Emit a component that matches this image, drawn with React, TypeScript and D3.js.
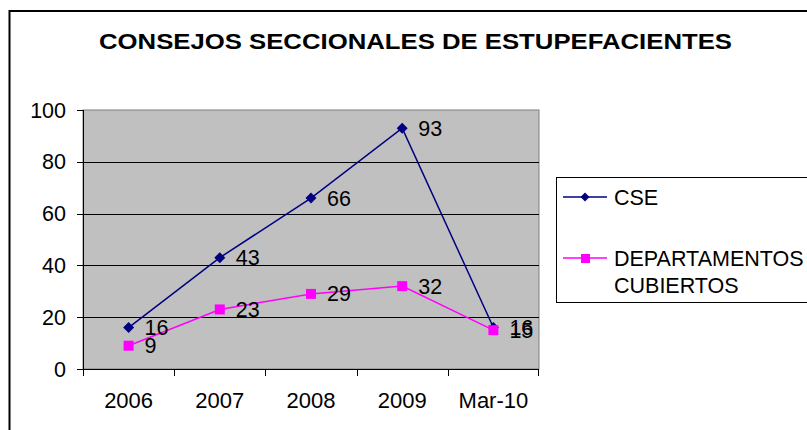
import React from "react";
import * as d3 from "d3";

const categories = ["2006", "2007", "2008", "2009", "Mar-10"];
const cseValues = [16, 43, 66, 93, 16];
const depValues = [9, 23, 29, 32, 15];
const yTicks = [0, 20, 40, 60, 80, 100];
const title = "CONSEJOS SECCIONALES DE ESTUPEFACIENTES";
const seriesNames = ["CSE", "DEPARTAMENTOS", "CUBIERTOS"];

const W = 807;
const H = 430;
const plot = { left: 83, right: 539, top: 110, bottom: 369 };
const font = "'Liberation Sans', Arial, sans-serif";

function T({
  x,
  y,
  anchor = "start",
  size = 21.5,
  sx = 1,
  dy = "0.35em",
  children,
}: {
  x: number;
  y: number;
  anchor?: string;
  size?: number;
  sx?: number;
  dy?: string;
  children: React.ReactNode;
}) {
  return (
    <text
      transform={`translate(${x},${y}) scale(${sx},1)`}
      dy={dy}
      textAnchor={anchor as any}
      fontFamily={font}
      fontSize={size}
      fill="#000"
    >
      {children}
    </text>
  );
}

export default function App() {
  const x = d3
    .scaleBand<string>()
    .domain(categories)
    .range([plot.left, plot.right])
    .padding(0);
  const y = d3.scaleLinear().domain([0, 100]).range([plot.bottom, plot.top]);
  const cx = (c: string) => (x(c) as number) + x.bandwidth() / 2;

  const line = d3
    .line<number>()
    .x((_, i) => cx(categories[i]))
    .y((d) => y(d));

  const diamond = (px: number, py: number, r: number) =>
    `M${px},${py - r}L${px + r},${py}L${px},${py + r}L${px - r},${py}Z`;

  return (
    <svg width={W} height={H} style={{ position: "absolute", left: 0, top: 0 }}>
      <rect x={0} y={0} width={W} height={H} fill="#fff" />
      {/* outer border */}
      <rect x={9.5} y={11} width={W + 10} height={H + 10} fill="none" stroke="#000" strokeWidth={2} />
      {/* title */}
      <text
        x={99}
        y={48.5}
        textLength={633}
        lengthAdjust="spacingAndGlyphs"
        fontFamily={font}
        fontWeight="bold"
        fontSize={22.5}
        fill="#000"
      >
        {title}
      </text>
      {/* plot area */}
      <rect
        x={plot.left}
        y={plot.top}
        width={plot.right - plot.left}
        height={plot.bottom - plot.top}
        fill="#C0C0C0"
        stroke="#808080"
        strokeWidth={1}
      />
      {/* gridlines */}
      {yTicks
        .filter((t) => t > 0 && t < 100)
        .map((t) => (
          <line
            key={"g" + t}
            x1={plot.left}
            x2={plot.right}
            y1={Math.round(y(t)) + 0.5}
            y2={Math.round(y(t)) + 0.5}
            stroke="#000"
            strokeWidth={1}
          />
        ))}
      {/* y axis */}
      <line x1={plot.left + 0.5} x2={plot.left + 0.5} y1={plot.top} y2={plot.bottom} stroke="#000" />
      {yTicks.map((t) => (
        <g key={"y" + t}>
          <line
            x1={plot.left - 6}
            x2={plot.left}
            y1={Math.round(y(t)) + 0.5}
            y2={Math.round(y(t)) + 0.5}
            stroke="#000"
          />
          <T x={plot.left - 17} y={y(t)} anchor="end">
            {t}
          </T>
        </g>
      ))}
      {/* x axis */}
      <line x1={plot.left} x2={plot.right} y1={plot.bottom + 0.5} y2={plot.bottom + 0.5} stroke="#000" />
      {categories.map((c, i) => (
        <g key={"x" + c}>
          <line
            x1={Math.round(x(c) as number) + 0.5}
            x2={Math.round(x(c) as number) + 0.5}
            y1={plot.bottom}
            y2={plot.bottom + 7}
            stroke="#000"
          />
          {i === categories.length - 1 && (
            <line
              x1={plot.right - 0.5}
              x2={plot.right - 0.5}
              y1={plot.bottom}
              y2={plot.bottom + 7}
              stroke="#000"
            />
          )}
          <T x={cx(c)} y={408} anchor="middle" dy="0" size={22}>
            {c}
          </T>
        </g>
      ))}
      {/* CSE series */}
      <path d={line(cseValues) || ""} fill="none" stroke="#000080" strokeWidth={1.5} />
      {cseValues.map((v, i) => (
        <path key={"cm" + i} d={diamond(cx(categories[i]), y(v), 5.5)} fill="#000080" />
      ))}
      {/* DEP series */}
      <path d={line(depValues) || ""} fill="none" stroke="#FF00FF" strokeWidth={1.5} />
      {depValues.map((v, i) => (
        <rect
          key={"dm" + i}
          x={cx(categories[i]) - 5}
          y={y(v) - 5}
          width={10}
          height={10}
          fill="#FF00FF"
        />
      ))}
      {/* data labels */}
      {cseValues.map((v, i) => (
        <T key={"cl" + i} x={cx(categories[i]) + 16} y={y(v)}>
          {v}
        </T>
      ))}
      {depValues.map((v, i) => (
        <T key={"dl" + i} x={cx(categories[i]) + 16} y={y(v)}>
          {v}
        </T>
      ))}
      {/* legend */}
      <rect x={556.5} y={177.5} width={300} height={125} fill="#fff" stroke="#000" strokeWidth={1} />
      <line x1={563} x2={607} y1={197} y2={197} stroke="#000080" strokeWidth={1.5} />
      <path d={diamond(585, 197, 4.5)} fill="#000080" />
      <T x={614} y={197} size={21.5}>
        {seriesNames[0]}
      </T>
      <line x1={563} x2={607} y1={258} y2={258} stroke="#FF00FF" strokeWidth={1.5} />
      <rect x={581} y={254} width={9} height={9} fill="#FF00FF" />
      <T x={614} y={258} size={21.5}>
        {seriesNames[1]}
      </T>
      <T x={614} y={285} size={21.5}>
        {seriesNames[2]}
      </T>
    </svg>
  );
}
